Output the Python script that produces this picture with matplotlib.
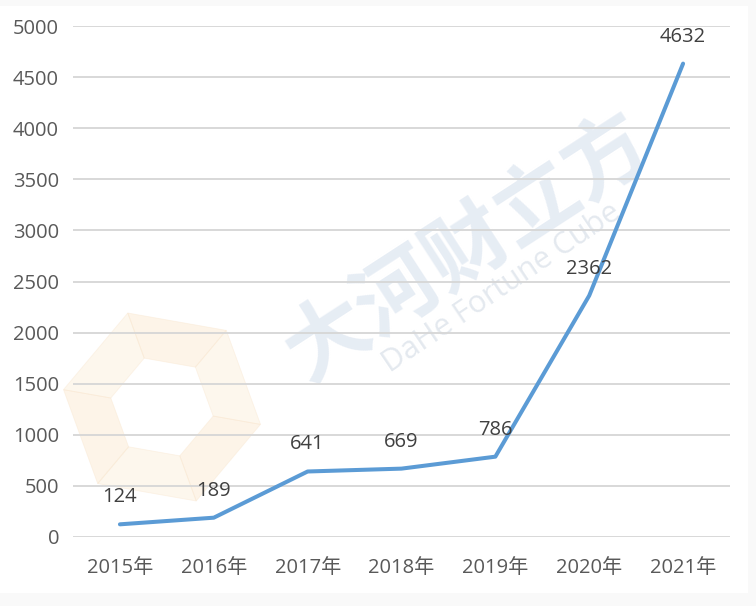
import numpy as np
import matplotlib
matplotlib.use("Agg")
import matplotlib.pyplot as plt
from matplotlib.patches import Polygon, Rectangle

plt.rcParams['font.family'] = ['Open Sans', 'Noto Sans CJK SC', 'DejaVu Sans']

# Yearly values
years = ['2015年', '2016年', '2017年', '2018年', '2019年', '2020年', '2021年']
values = [124, 189, 641, 669, 786, 2362, 4632]
y_ticks = [0, 500, 1000, 1500, 2000, 2500, 3000, 3500, 4000, 4500, 5000]

W, H = 756, 606
fig = plt.figure(figsize=(W / 100, H / 100), dpi=100)
fig.patch.set_facecolor('#f9f9f9')

# white card behind the chart
fig.patches.append(Rectangle((0, 13 / H), 748 / W, (593 - 6) / H,
                             transform=fig.transFigure, facecolor='white',
                             edgecolor='none', zorder=-5))

ax = fig.add_axes([73 / W, 1 - 537 / H, (730 - 73) / W, (537 - 26) / H])
ax.set_facecolor('none')
ax.set_zorder(5)

x = np.arange(len(years))
ax.plot(x, values, color='#5B9BD5', linewidth=2.9, solid_joinstyle='round',
        solid_capstyle='round', zorder=5)

for xi, v in zip(x, values):
    ax.annotate(str(v), (xi, v), xytext=(0, 19.5), textcoords='offset points',
                ha='center', va='center', fontsize=14.5, color='#404040', zorder=6)

ax.set_xlim(-0.5, len(years) - 0.5)
ax.set_ylim(0, 5000)
ax.set_yticks(y_ticks)
ax.set_xticks(x)
ax.set_xticklabels(years)
ax.tick_params(axis='both', length=0, labelsize=14.5, labelcolor='#595959')
ax.tick_params(axis='y', pad=10)
ax.tick_params(axis='x', pad=15)
ax.grid(axis='y', color='#d6d6d6', linewidth=1.3, zorder=0)
ax.set_axisbelow(True)
for s in ax.spines.values():
    s.set_visible(False)

# faint brand watermark
def px(xp, yp):
    return (xp / W, 1 - yp / H)

cx, cy = 162, 407
r_out, r_in = 100, 52
for k in range(6):
    a0 = np.deg2rad(60 * k + 10)
    a1 = np.deg2rad(60 * (k + 1) + 10)
    pts = [(cx + r_out * np.cos(a0), cy + r_out * np.sin(a0)),
           (cx + r_out * np.cos(a1), cy + r_out * np.sin(a1)),
           (cx + r_in * np.cos(a1), cy + r_in * np.sin(a1)),
           (cx + r_in * np.cos(a0), cy + r_in * np.sin(a0))]
    shade = '#fbe8cc' if k % 2 == 0 else '#fcefd9'
    fig.patches.append(Polygon([px(*p) for p in pts], closed=True,
                               transform=fig.transFigure, facecolor=shade,
                               edgecolor='#f9e6cf', linewidth=0.6, alpha=0.45,
                               zorder=1))

fig.text(*px(468, 248), '大河财立方', fontsize=60, color='#c9d7e8', alpha=0.45,
         rotation=33, ha='center', va='center', family=['Noto Sans CJK SC'],
         fontweight='bold', zorder=1)
fig.text(*px(502, 288), 'DaHe Fortune Cube', fontsize=22, color='#c9d3df',
         alpha=0.5, rotation=34, ha='center', va='center', zorder=1)

fig.savefig('out.png', dpi=100)
